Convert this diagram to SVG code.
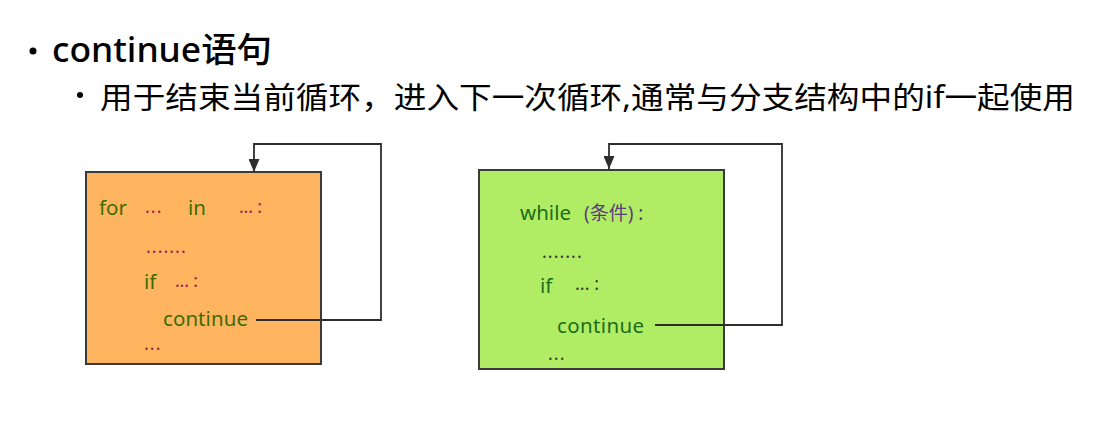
<svg xmlns="http://www.w3.org/2000/svg" width="1111" height="430" viewBox="0 0 1111 430">
  <defs>
    <marker id="arr" viewBox="0 0 13 11" refX="13" refY="5.5" markerWidth="13" markerHeight="11" markerUnits="userSpaceOnUse" orient="auto">
      <path d="M0,0 L13,5.5 L0,11 Z" fill="#2e2e2e"/>
    </marker>
    <style>
      .t { font-family: "Noto Sans", "Noto Sans CJK SC", sans-serif; }
      .box { stroke: #3a3a3a; stroke-width: 2; }
      .g1 { fill: #3d6b00; font-size: 20.5px; }
      .d1 { fill: #a0204a; font-size: 18px; letter-spacing: 1px; }
      .g2 { fill: #1a6e1a; font-size: 20.5px; }
      .d2 { fill: #3a3a3a; font-size: 18px; letter-spacing: 1px; }
      .p2 { fill: #5b3d7a; font-size: 19px; }
      .conn { fill: none; stroke: #2e2e2e; stroke-width: 1.8; }
    </style>
  </defs>
  <rect width="1111" height="430" fill="#ffffff"/>

  <g id="title">
    <circle cx="33" cy="51" r="3.5" fill="#000"/>
    <text class="t" x="52" y="62" font-size="34" font-weight="500" textLength="220" lengthAdjust="spacingAndGlyphs" fill="#000">continue语句</text>
  </g>
  <g id="subtitle">
    <circle cx="80" cy="95" r="3" fill="#000"/>
    <text class="t" x="100" y="108" font-size="30" textLength="975" lengthAdjust="spacingAndGlyphs" fill="#000">用于结束当前循环，进入下一次循环,通常与分支结构中的if一起使用</text>
  </g>

  <g id="for-box">
    <rect class="box" x="86" y="172" width="235" height="192" fill="#ffb560"/>
    <text class="t g1" x="99" y="215">for</text>
    <text class="t d1" x="145" y="213">...</text>
    <text class="t g1" x="188" y="215">in</text>
    <text class="t d1" x="239" y="213" textLength="24">... :</text>
    <text class="t d1" x="146" y="253">.......</text>
    <text class="t g1" x="144" y="289">if</text>
    <text class="t d1" x="175" y="287" textLength="24">... :</text>
    <text class="t g1" x="163" y="326" textLength="85">continue</text>
    <text class="t d1" x="144" y="350">...</text>
  </g>

  <g id="while-box">
    <rect class="box" x="479" y="170" width="245" height="199" fill="#b0ec64"/>
    <text class="t g2" x="520" y="220" textLength="51">while</text>
    <text class="t p2" x="584" y="220">(条件) :</text>
    <text class="t d2" x="542" y="258">.......</text>
    <text class="t g2" x="540" y="293">if</text>
    <text class="t d2" x="575" y="290" textLength="25">... :</text>
    <text class="t g2" x="557" y="333" textLength="87">continue</text>
    <text class="t d2" x="548" y="360">...</text>
  </g>

  <g id="connectors">
    <path class="conn" d="M256,320 H381 V144 H254 V172" marker-end="url(#arr)"/>
    <path class="conn" d="M655,325 H782 V144 H609 V169" marker-end="url(#arr)"/>
  </g>
</svg>
